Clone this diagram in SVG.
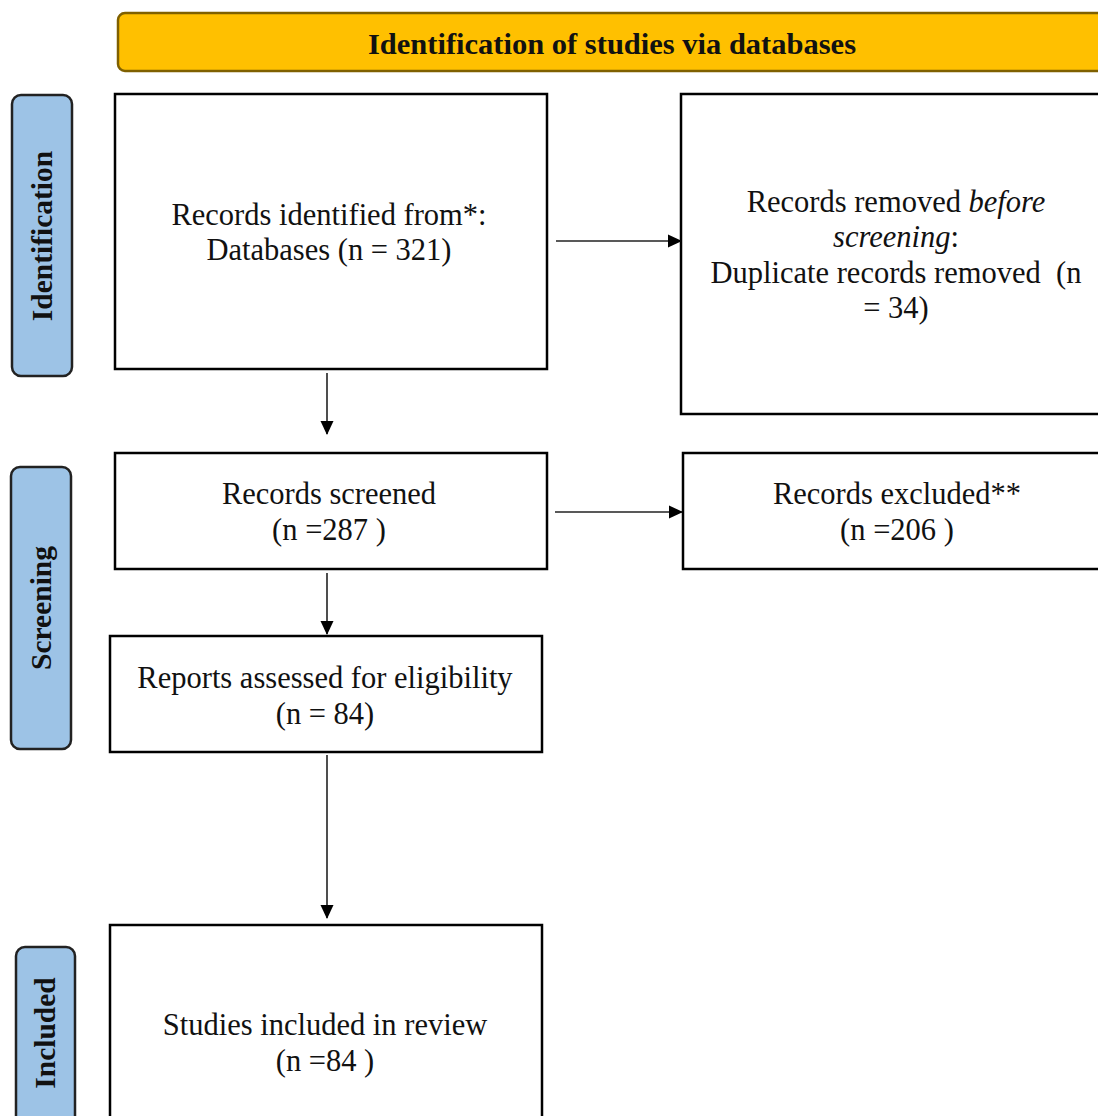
<svg xmlns="http://www.w3.org/2000/svg" width="1098" height="1116" viewBox="0 0 1098 1116">
<defs>
<marker id="ah" markerWidth="14" markerHeight="14" refX="13" refY="7" orient="auto" markerUnits="userSpaceOnUse" viewBox="0 0 14 14">
<path d="M0,0.5 L14,7 L0,13.5 Z" fill="#000"/>
</marker>
<style>
.box{fill:#fff;stroke:#000;stroke-width:2.5}
.side{fill:#9DC3E6;stroke:#222;stroke-width:2.5}
.t{font-family:"Liberation Serif","Times New Roman",serif;font-size:30.5px;fill:#111;text-anchor:middle}
.s{font-family:"Liberation Serif","Times New Roman",serif;font-size:29.5px;font-weight:bold;fill:#111;text-anchor:middle}
.c{stroke:#222;stroke-width:1.6;fill:none;marker-end:url(#ah)}
</style>
</defs>
<g id="header">
<rect x="118" y="13" width="1000" height="58" rx="7" fill="#FFC000" stroke="#7F6000" stroke-width="2.5"/>
<text class="s" x="612" y="54" font-size="33" textLength="488" lengthAdjust="spacingAndGlyphs">Identification of studies via databases</text>
</g>
<g id="lbl-identification">
<rect class="side" x="12" y="95" width="60" height="281" rx="9"/>
<text class="s" transform="translate(52,236) rotate(-90)">Identification</text>
</g>
<g id="lbl-screening">
<rect class="side" x="11" y="467" width="60" height="282" rx="9"/>
<text class="s" transform="translate(51,608) rotate(-90)">Screening</text>
</g>
<g id="lbl-included">
<rect class="side" x="16" y="947" width="59" height="190" rx="9"/>
<text class="s" transform="translate(55,1033) rotate(-90)">Included</text>
</g>
<g id="n-identified">
<rect class="box" x="115" y="94" width="432" height="275"/>
<text class="t" x="329" y="225">Records identified from*:</text>
<text class="t" x="329" y="260">Databases (n = 321)</text>
</g>
<g id="n-removed">
<rect class="box" x="681" y="94" width="430" height="320"/>
<text class="t" x="896" y="212">Records removed <tspan font-style="italic">before</tspan></text>
<text class="t" x="896" y="247"><tspan font-style="italic">screening</tspan>:</text>
<text class="t" x="896" y="283" xml:space="preserve">Duplicate records removed  (n</text>
<text class="t" x="896" y="318">= 34)</text>
</g>
<g id="n-screened">
<rect class="box" x="115" y="453" width="432" height="116"/>
<text class="t" x="329" y="504">Records screened</text>
<text class="t" x="329" y="540">(n =287 )</text>
</g>
<g id="n-excluded">
<rect class="box" x="683" y="453" width="430" height="116"/>
<text class="t" x="897" y="504">Records excluded**</text>
<text class="t" x="897" y="540">(n =206 )</text>
</g>
<g id="n-assessed">
<rect class="box" x="110" y="636" width="432" height="116"/>
<text class="t" x="325" y="688">Reports assessed for eligibility</text>
<text class="t" x="325" y="724">(n = 84)</text>
</g>
<g id="n-included">
<rect class="box" x="110" y="925" width="432" height="210"/>
<text class="t" x="325" y="1035">Studies included in review</text>
<text class="t" x="325" y="1071">(n =84 )</text>
</g>
<g id="connectors">
<line class="c" x1="556" y1="241" x2="681" y2="241"/>
<line class="c" x1="327" y1="373" x2="327" y2="434"/>
<line class="c" x1="555" y1="512" x2="682" y2="512"/>
<line class="c" x1="327" y1="573" x2="327" y2="634"/>
<line class="c" x1="327" y1="755" x2="327" y2="918"/>
</g>
</svg>
